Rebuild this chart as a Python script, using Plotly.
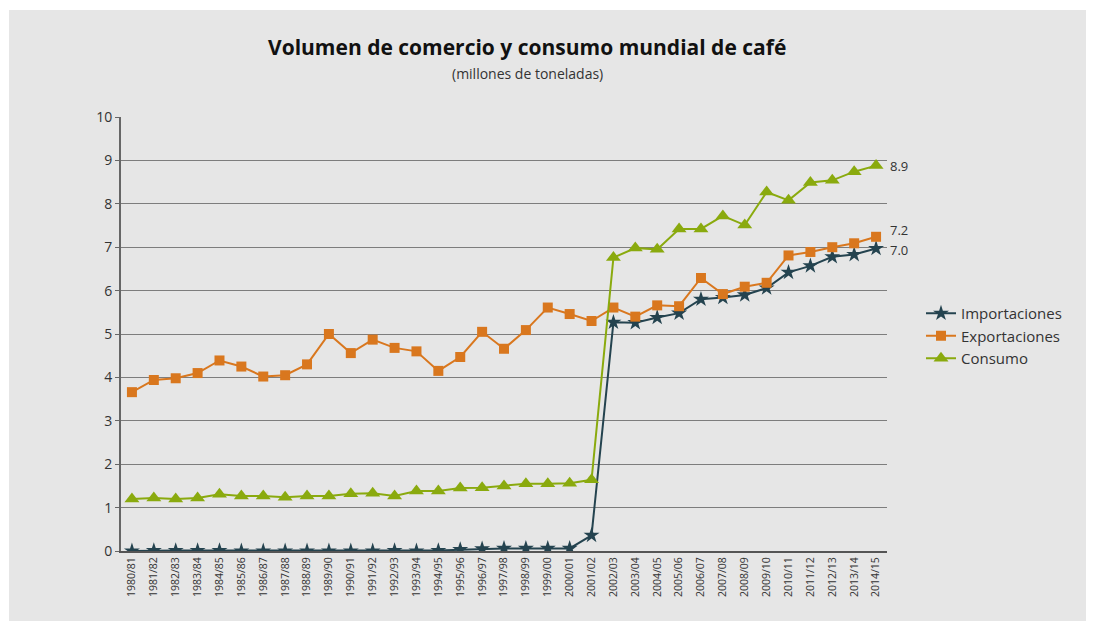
import plotly.graph_objects as go

categories = ["1980/81","1981/82","1982/83","1983/84","1984/85","1985/86","1986/87","1987/88",
              "1988/89","1989/90","1990/91","1991/92","1992/93","1993/94","1994/95","1995/96",
              "1996/97","1997/98","1998/99","1999/00","2000/01","2001/02","2002/03","2003/04",
              "2004/05","2005/06","2006/07","2007/08","2008/09","2009/10","2010/11","2011/12",
              "2012/13","2013/14","2014/15"]

importaciones = [0.00, 0.01, 0.01, 0.01, 0.01, 0.00, 0.00, 0.00, 0.00, 0.00, 0.00, 0.00,
                 0.01, 0.00, 0.01, 0.03, 0.05, 0.06, 0.06, 0.06, 0.06, 0.36, 5.27, 5.26,
                 5.38, 5.48, 5.80, 5.84, 5.90, 6.06, 6.42, 6.57, 6.78, 6.83, 6.97]

exportaciones = [3.66, 3.94, 3.98, 4.10, 4.39, 4.25, 4.02, 4.05, 4.30, 5.00, 4.56, 4.87,
                 4.68, 4.60, 4.15, 4.47, 5.05, 4.66, 5.09, 5.61, 5.46, 5.30, 5.61, 5.40,
                 5.66, 5.64, 6.29, 5.92, 6.09, 6.18, 6.81, 6.89, 7.00, 7.09, 7.24]

consumo = [1.20, 1.22, 1.20, 1.22, 1.31, 1.27, 1.27, 1.24, 1.27, 1.27, 1.32, 1.33,
           1.27, 1.38, 1.38, 1.45, 1.46, 1.50, 1.55, 1.55, 1.56, 1.64, 6.76, 6.98,
           6.95, 7.42, 7.42, 7.72, 7.51, 8.27, 8.08, 8.49, 8.54, 8.74, 8.88]

y_ticks = [0, 1, 2, 3, 4, 5, 6, 7, 8, 9, 10]

C_IMP = "#24434f"
C_EXP = "#d9771e"
C_CON = "#8aaa0e"
BG = "#e6e6e6"
FONT = "Open Sans"

fig = go.Figure()
fig.add_trace(go.Scatter(x=categories, y=importaciones, name="Importaciones", mode="lines+markers",
                         line=dict(color=C_IMP, width=2), marker=dict(symbol="star", size=12, color=C_IMP)))
fig.add_trace(go.Scatter(x=categories, y=exportaciones, name="Exportaciones", mode="lines+markers",
                         line=dict(color=C_EXP, width=2), marker=dict(symbol="square", size=10, color=C_EXP)))
fig.add_trace(go.Scatter(x=categories, y=consumo, name="Consumo", mode="lines+markers",
                         line=dict(color=C_CON, width=2), marker=dict(symbol="triangle-up", size=13, color=C_CON)))

# page body has an 8px margin; all pixel positions below are screenshot coordinates
OFF = 8
W, H = 1120, 640
L, T = 121 - OFF, 117 - OFF
R = W - (887 - OFF)
B = H - (551 - OFF)
pw, ph = W - L - R, H - T - B

def px_x(p):
    return (p - OFF - L) / pw

def px_y(p):
    return (H - B - (p - OFF)) / ph

shapes = [
    dict(type="rect", xref="paper", yref="paper", x0=px_x(-20), x1=px_x(1300),
         y0=px_y(800), y1=px_y(-20), fillcolor="white", line=dict(width=0), layer="below"),
    dict(type="rect", xref="paper", yref="paper", x0=px_x(9), x1=px_x(1300),
         y0=px_y(800), y1=px_y(10), fillcolor=BG, line=dict(width=0), layer="below"),
]

annotations = [
    dict(text="<b>Volumen de comercio y consumo mundial de café</b>", xref="paper", yref="paper",
         x=px_x(527), y=px_y(47), xanchor="center", yanchor="middle", showarrow=False,
         font=dict(family=FONT, size=21, color="#111111")),
    dict(text="(millones de toneladas)", xref="paper", yref="paper",
         x=px_x(527), y=px_y(73), xanchor="center", yanchor="middle", showarrow=False,
         font=dict(family=FONT, size=14, color="#333333")),
]
for vals, dy in [(consumo, 0), (exportaciones, 7), (importaciones, -1)]:
    annotations.append(dict(text=f"{vals[-1]:.1f}", xref="paper", yref="y", x=px_x(888), y=vals[-1],
                            xanchor="left", yanchor="middle", yshift=dy, showarrow=False,
                            font=dict(family=FONT, size=13, color="#333333")))

fig.update_layout(
    width=W, height=H,
    margin=dict(l=L, r=R, t=T, b=B),
    paper_bgcolor=BG, plot_bgcolor=BG,
    font=dict(family=FONT, color="#333333"),
    shapes=shapes,
    annotations=annotations,
    showlegend=True,
    legend=dict(x=px_x(921), y=px_y(297), xanchor="left", yanchor="top",
                bgcolor="rgba(0,0,0,0)", font=dict(family=FONT, size=15, color="#333333"),
                tracegroupgap=0, itemwidth=30),
    xaxis=dict(type="category", range=[-0.5, len(categories) - 0.5], tickangle=-90,
               tickfont=dict(family=FONT, size=10.5, color="#333333"), showgrid=False,
               showline=True, linecolor="#555555", linewidth=2, ticks="", zeroline=False),
    yaxis=dict(range=[0, 10], tickvals=y_ticks, showgrid=True, gridcolor="#7d7d7d", gridwidth=1.3,
               showline=True, linecolor="#666666", linewidth=2, ticks="outside", ticklen=4,
               tickcolor="#666666", tickfont=dict(family=FONT, size=14, color="#333333"),
               zeroline=False),
)

fig.write_html("out.html")
